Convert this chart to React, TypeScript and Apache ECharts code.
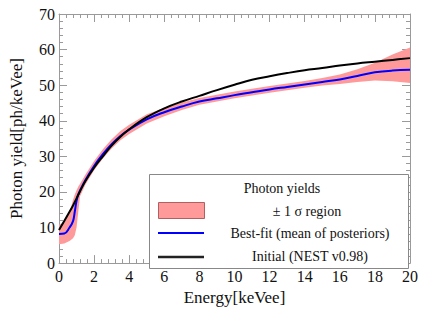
import React, { useEffect, useRef } from "react";
import * as echarts from "echarts";

const energy = [0, 0.3, 0.6, 0.8, 0.9, 1.0, 1.1, 1.2, 1.5, 2, 2.5, 3, 3.5, 4, 5, 6, 7, 8, 9, 10, 11, 12, 13, 14, 15, 16, 17, 18, 19, 20];
const nestInitial = [9.3, 11.8, 14.4, 16.2, 17.2, 18.2, 19.2, 20.2, 23.0, 26.8, 30, 33, 35.5, 37.6, 41, 43.5, 45.4, 47, 48.6, 50.1, 51.5, 52.5, 53.4, 54.2, 54.8, 55.5, 56.1, 56.6, 57.1, 57.6];
const bestFit = [8.2, 8.3, 10, 11.8, 14.5, 17.5, 19.3, 20.4, 23.3, 27.3, 30.6, 33.4, 35.7, 37.5, 40.4, 42.4, 44, 45.4, 46.3, 47.2, 48, 48.8, 49.5, 50.2, 50.9, 51.6, 52.6, 53.6, 54.1, 54.3];
const sigmaLower = [5.3, 5.5, 6.2, 7.0, 7.8, 10, 14.5, 18.8, 22.0, 26.1, 29.4, 32.2, 34.5, 36.3, 39.2, 41.3, 43, 44.5, 45.4, 46.3, 47.1, 47.9, 48.6, 49.3, 49.9, 50.3, 50.9, 51.3, 51.1, 50.6];
const sigmaUpper = [10.8, 11.5, 14.2, 17.8, 19.3, 20.5, 21.5, 22.3, 24.8, 28.7, 32, 34.8, 37.1, 38.9, 41.8, 43.6, 45.1, 46.4, 47.3, 48.2, 49, 49.8, 50.5, 51.2, 52, 53, 54.5, 56.3, 58.6, 60.6];

const legendTitle = "Photon yields";
const legendLabels = ["± 1 σ region", "Best-fit (mean of posteriors)", "Initial (NEST v0.98)"];

const FONT = "Liberation Serif, Times New Roman, serif";
const AXIS_COLOR = "#9a9a9a";
const BAND_COLOR = "#ff9a9a";

export default function App() {
  const ref = useRef<HTMLDivElement>(null);
  useEffect(() => {
    if (!ref.current) return;
    const chart = echarts.init(ref.current, undefined, { renderer: "svg" });
    const baseX = {
      type: "value",
      min: 0,
      max: 20,
      interval: 2,
      axisLine: { show: true, onZero: false, lineStyle: { color: AXIS_COLOR, width: 1 } },
      axisTick: { show: true, inside: true, length: 8, lineStyle: { color: AXIS_COLOR } },
      minorTick: { show: true, splitNumber: 5, length: 4, lineStyle: { color: AXIS_COLOR } },
      splitLine: { show: false },
    };
    const baseY = {
      type: "value",
      min: 0,
      max: 70,
      interval: 10,
      axisLine: { show: true, onZero: false, lineStyle: { color: AXIS_COLOR, width: 1 } },
      axisTick: { show: true, inside: true, length: 8, lineStyle: { color: AXIS_COLOR } },
      minorTick: { show: true, splitNumber: 5, length: 4, lineStyle: { color: AXIS_COLOR } },
      splitLine: { show: false },
    };
    const txt = (text: string, x: number, y: number) => ({
      type: "text",
      x,
      y,
      style: { text, fill: "#111", fontFamily: FONT, fontSize: 14, textAlign: "center", textVerticalAlign: "middle" },
      z: 11,
    });
    const option: any = {
      animation: false,
      backgroundColor: "#ffffff",
      grid: { left: 59, right: 9, top: 14, bottom: 40, containLabel: false },
      xAxis: [
        {
          ...baseX,
          position: "bottom",
          axisLabel: { color: "#111", fontFamily: FONT, fontSize: 16, margin: 5 },
          name: "Energy[keVee]",
          nameLocation: "middle",
          nameGap: 18,
          nameTextStyle: { color: "#111", fontFamily: FONT, fontSize: 17, verticalAlign: "top" },
        },
        { ...baseX, position: "top", axisLabel: { show: false } },
      ],
      yAxis: [
        {
          ...baseY,
          position: "left",
          axisLabel: { color: "#111", fontFamily: FONT, fontSize: 16, margin: 4 },
          name: "Photon yield[ph/keVee]",
          nameLocation: "middle",
          nameGap: 34,
          nameTextStyle: { color: "#111", fontFamily: FONT, fontSize: 17 },
        },
        { ...baseY, position: "right", axisLabel: { show: false } },
      ],
      series: [
        {
          type: "custom",
          name: "band",
          xAxisIndex: 0,
          yAxisIndex: 0,
          data: [[0, 0]],
          renderItem: (params: any, api: any) => {
            const pts: number[][] = [];
            for (let i = 0; i < energy.length; i++) pts.push(api.coord([energy[i], sigmaUpper[i]]));
            for (let i = energy.length - 1; i >= 0; i--) pts.push(api.coord([energy[i], sigmaLower[i]]));
            return {
              type: "polygon",
              shape: { points: pts },
              style: { fill: BAND_COLOR, stroke: "none" },
            };
          },
          z: 1,
        },
        {
          type: "line",
          name: "best",
          data: energy.map((x, i) => [x, bestFit[i]]),
          showSymbol: false,
          smooth: 0.4,
          lineStyle: { color: "#0000ff", width: 2 },
          z: 2,
        },
        {
          type: "line",
          name: "nest",
          data: energy.map((x, i) => [x, nestInitial[i]]),
          showSymbol: false,
          smooth: 0.4,
          lineStyle: { color: "#000000", width: 2 },
          z: 3,
        },
      ],
      graphic: [
        {
          type: "rect",
          shape: { x: 149.5, y: 174.5, width: 259, height: 94 },
          style: { fill: "#ffffff", stroke: "#888888", lineWidth: 1 },
          z: 10,
        },
        txt(legendTitle, 282, 188),
        {
          type: "rect",
          shape: { x: 158.5, y: 202.5, width: 46, height: 16 },
          style: { fill: BAND_COLOR, stroke: "#b06060", lineWidth: 1 },
          z: 11,
        },
        txt(legendLabels[0], 307, 211),
        {
          type: "line",
          shape: { x1: 158, y1: 233, x2: 204, y2: 233 },
          style: { stroke: "#0000ff", lineWidth: 2 },
          z: 11,
        },
        txt(legendLabels[1], 310, 233),
        {
          type: "line",
          shape: { x1: 158, y1: 257, x2: 204, y2: 257 },
          style: { stroke: "#222222", lineWidth: 2.5 },
          z: 11,
        },
        txt(legendLabels[2], 310, 256),
      ],
    };
    chart.setOption(option);
    return () => chart.dispose();
  }, []);
  return <div ref={ref} style={{ width: 421, height: 311, position: "absolute", left: 0, top: 0 }} />;
}
